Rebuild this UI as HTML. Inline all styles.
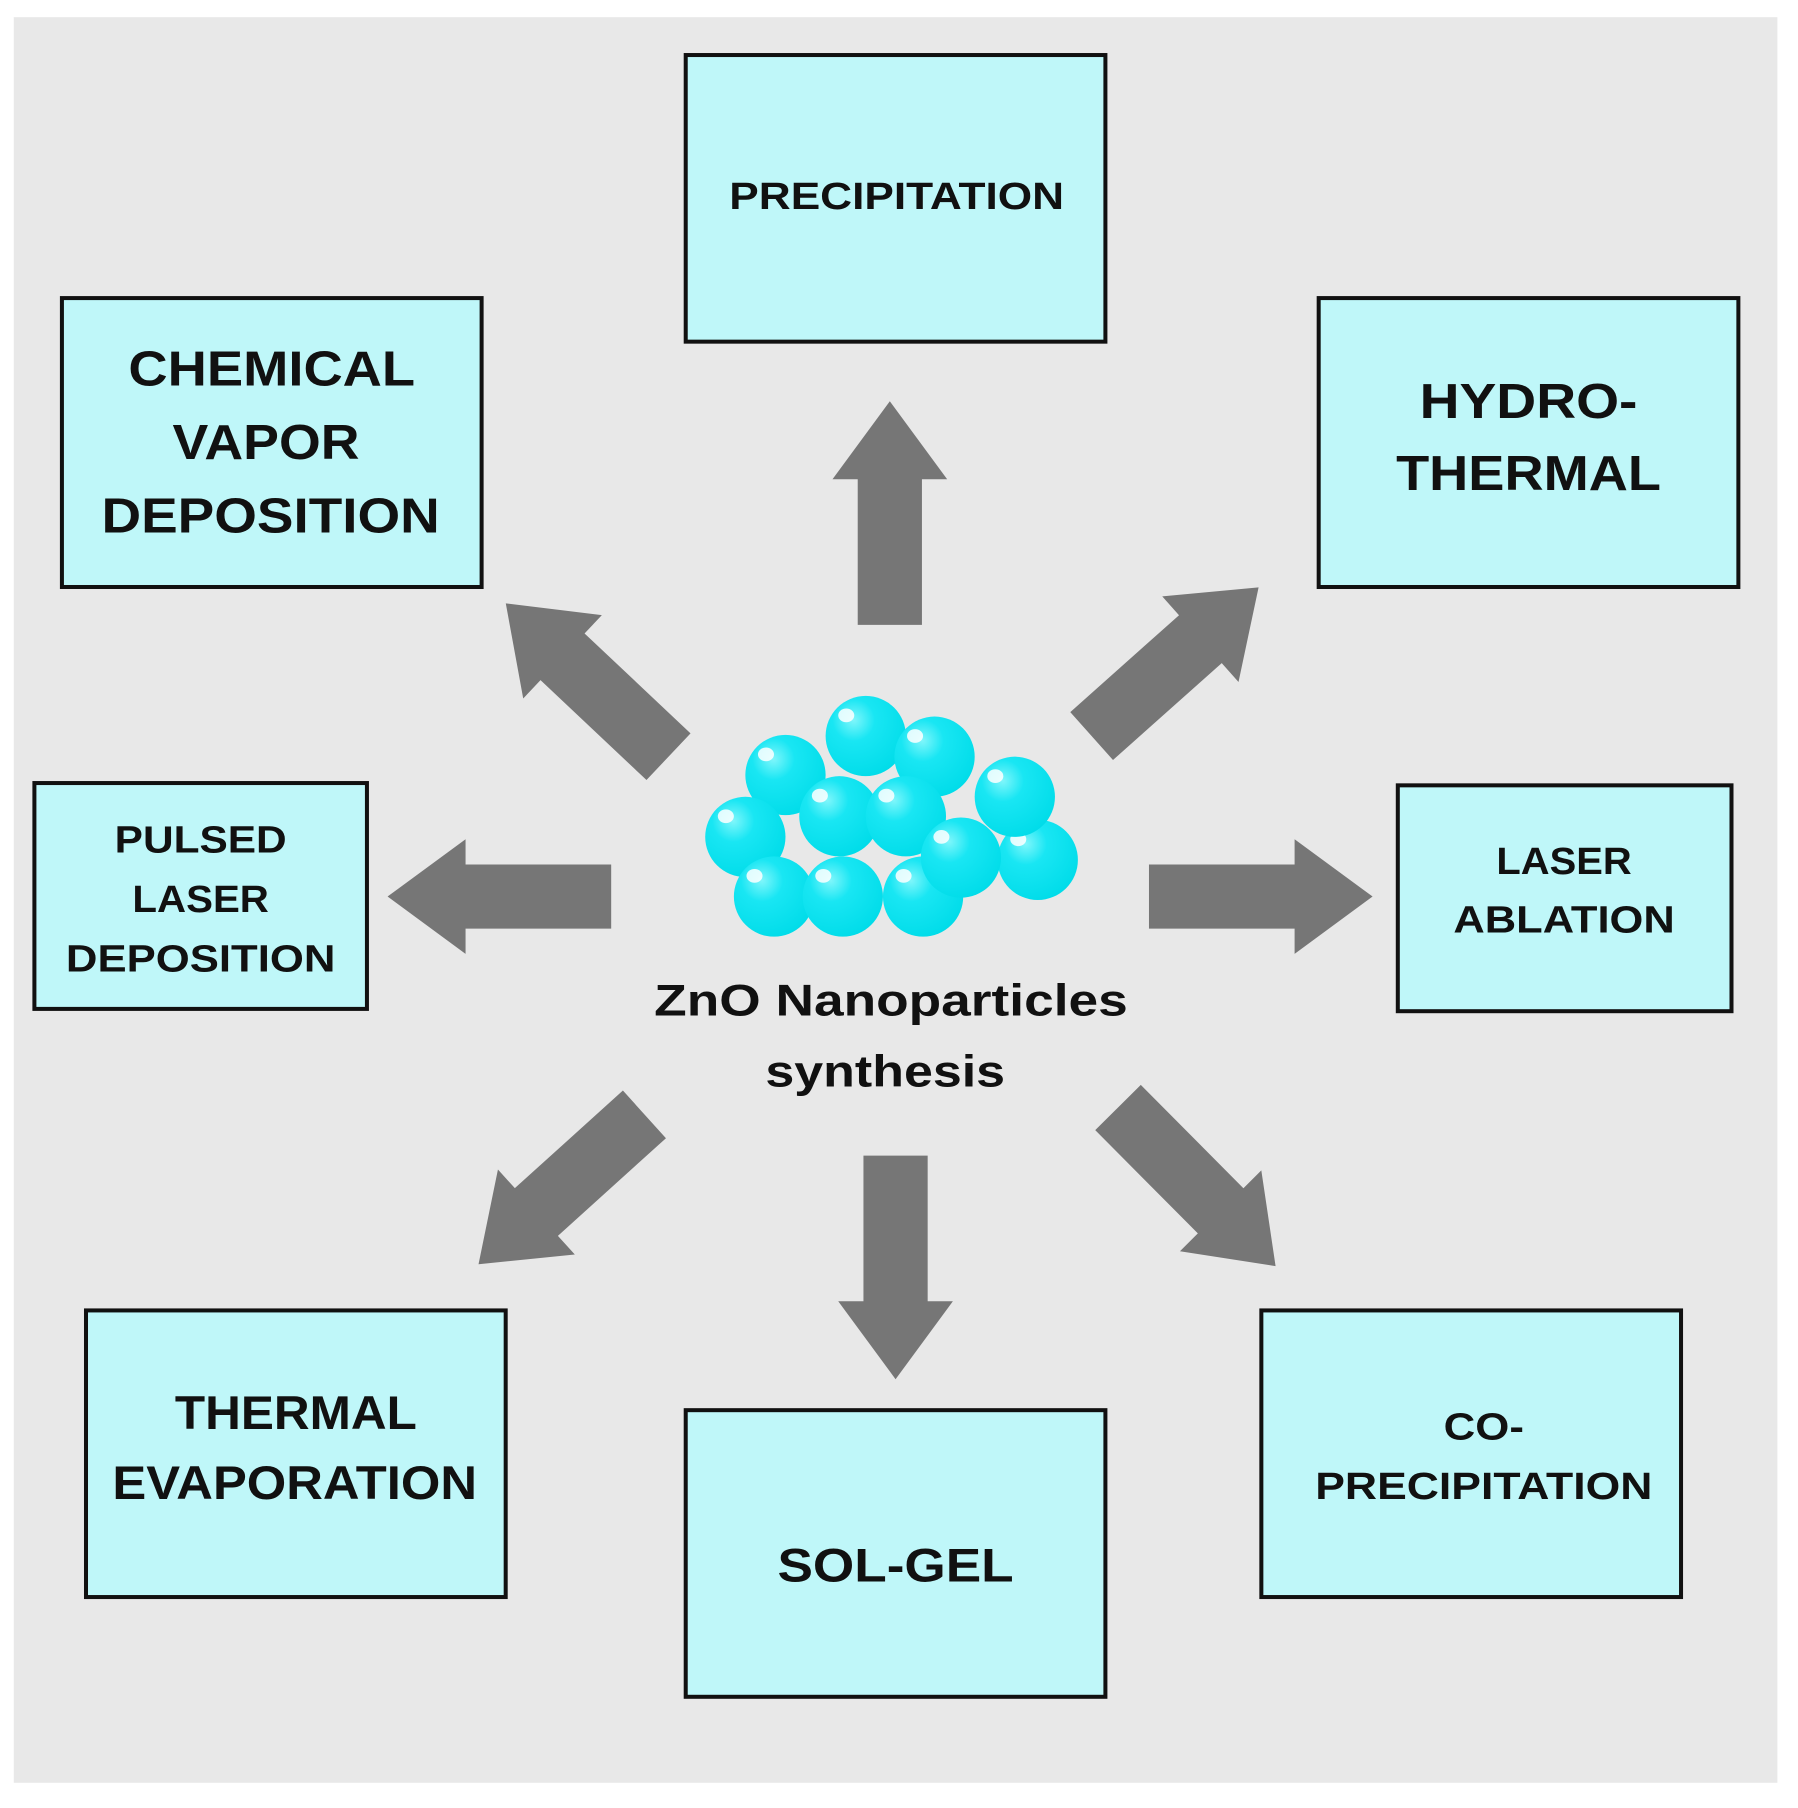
<!DOCTYPE html>
<html><head><meta charset="utf-8"><style>html,body{margin:0;padding:0;background:#fff}svg{display:block}</style></head>
<body>
<svg width="1798" height="1808" viewBox="0 0 1568 1577" preserveAspectRatio="none" xmlns="http://www.w3.org/2000/svg">
<defs>
<radialGradient id="g" cx="0.35" cy="0.3" r="0.75">
<stop offset="0" stop-color="#7ff6fb"/><stop offset="0.35" stop-color="#19e6f3"/><stop offset="1" stop-color="#00dce9"/>
</radialGradient>
<g id="arr"><path d="M0,-28 L127,-28 L127,-50 L195,0 L127,50 L127,28 L0,28 Z" fill="#767676"/></g>
<g id="b"><circle r="35" fill="url(#g)"/><ellipse cx="-17" cy="-18" rx="7" ry="6" fill="#fff" opacity="0.85"/></g>
</defs>
<rect x="0" y="0" width="1568" height="1577" fill="#fff"/>
<rect x="12" y="15" width="1538" height="1540" fill="#e8e8e8"/>
<g fill="#bff7f9" stroke="#111" stroke-width="3.5">
<rect x="598" y="48" width="366" height="250"/>
<rect x="54" y="260" width="366" height="252"/>
<rect x="1150" y="260" width="366" height="252"/>
<rect x="30" y="683" width="290" height="197"/>
<rect x="1219" y="685" width="291" height="197"/>
<rect x="75" y="1143" width="366" height="250"/>
<rect x="598" y="1230" width="366" height="250"/>
<rect x="1100" y="1143" width="366" height="250"/>
</g>
<use href="#arr" transform="translate(776,545) rotate(-90)"/>
<use href="#arr" transform="translate(533,782) rotate(180)"/>
<use href="#arr" transform="translate(1002,782)"/>
<use href="#arr" transform="translate(781,1008) rotate(90)"/>
<use href="#arr" transform="translate(583,660) rotate(223.3)"/>
<use href="#arr" transform="translate(952,642) rotate(-41.7)"/>
<use href="#arr" transform="translate(562,972) rotate(137.9)"/>
<use href="#arr" transform="translate(975,966) rotate(45.2)"/>
<use href="#b" x="755" y="642"/><use href="#b" x="815" y="660"/><use href="#b" x="685" y="676"/>
<use href="#b" x="732" y="712"/><use href="#b" x="790" y="712"/><use href="#b" x="650" y="730"/>
<use href="#b" x="905" y="750"/><use href="#b" x="885" y="695"/><use href="#b" x="675" y="782"/>
<use href="#b" x="735" y="782"/><use href="#b" x="805" y="782"/><use href="#b" x="838" y="748"/>
<g font-family="Liberation Sans, sans-serif" font-weight="bold" fill="#111" text-anchor="middle" dominant-baseline="central" lengthAdjust="spacingAndGlyphs">
<text x="782" y="172" font-size="33" textLength="292" lengthAdjust="spacingAndGlyphs">PRECIPITATION</text>
<text x="237" y="322" font-size="43" textLength="250" lengthAdjust="spacingAndGlyphs">CHEMICAL</text>
<text x="232" y="386" font-size="43" textLength="163" lengthAdjust="spacingAndGlyphs">VAPOR</text>
<text x="236" y="450" font-size="43" textLength="295" lengthAdjust="spacingAndGlyphs">DEPOSITION</text>
<text x="1333" y="350" font-size="43" textLength="190" lengthAdjust="spacingAndGlyphs">HYDRO-</text>
<text x="1333" y="413" font-size="43" textLength="231" lengthAdjust="spacingAndGlyphs">THERMAL</text>
<text x="175" y="733" font-size="33" textLength="150" lengthAdjust="spacingAndGlyphs">PULSED</text>
<text x="175" y="785" font-size="33" textLength="119" lengthAdjust="spacingAndGlyphs">LASER</text>
<text x="175" y="837" font-size="33" textLength="235" lengthAdjust="spacingAndGlyphs">DEPOSITION</text>
<text x="1364" y="752" font-size="33" textLength="118" lengthAdjust="spacingAndGlyphs">LASER</text>
<text x="1364" y="803" font-size="33" textLength="193" lengthAdjust="spacingAndGlyphs">ABLATION</text>
<text x="258" y="1232" font-size="41" textLength="211" lengthAdjust="spacingAndGlyphs">THERMAL</text>
<text x="257" y="1293" font-size="41" textLength="318" lengthAdjust="spacingAndGlyphs">EVAPORATION</text>
<text x="781" y="1365" font-size="41" textLength="206" lengthAdjust="spacingAndGlyphs">SOL-GEL</text>
<text x="1294" y="1245" font-size="33" textLength="70" lengthAdjust="spacingAndGlyphs">CO-</text>
<text x="1294" y="1297" font-size="33" textLength="294" lengthAdjust="spacingAndGlyphs">PRECIPITATION</text>
<text x="777" y="873" font-size="39" textLength="413" lengthAdjust="spacingAndGlyphs">ZnO Nanoparticles</text>
<text x="772" y="935" font-size="39" textLength="209" lengthAdjust="spacingAndGlyphs">synthesis</text>
</g>
</svg>
</body></html>
